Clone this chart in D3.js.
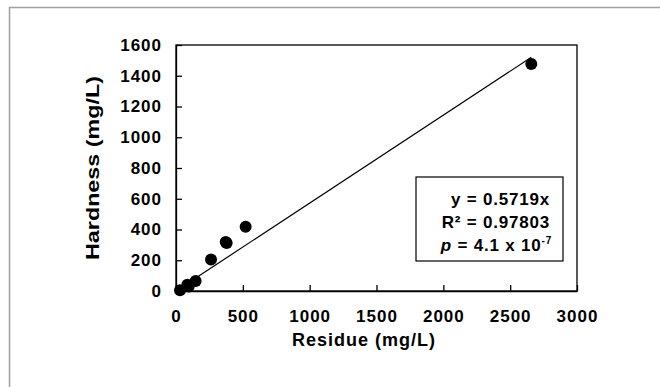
<!DOCTYPE html>
<html>
<head>
<meta charset="utf-8">
<script src="https://cdn.jsdelivr.net/npm/d3@7"></script>
<style>
  body { margin: 0; background: #fff; }
  text { font-family: "Liberation Sans", Arial, sans-serif; font-weight: bold; fill: #000; }
</style>
</head>
<body>
<div id="chart"></div>
<script>
const residue = [30, 85, 95, 147, 262, 372, 379, 521, 2658];
const hardness = [5, 40, 30, 65, 205, 318, 312, 418, 1477];
const slope = 0.5719;
const xTicks = [0, 500, 1000, 1500, 2000, 2500, 3000];
const yTicks = [0, 200, 400, 600, 800, 1000, 1200, 1400, 1600];
const statLines = ['y = 0.5719x', 'R² = 0.97803'];

const svg = d3.select('#chart').append('svg')
    .attr('width', 660)
    .attr('height', 387);

// outer frame (only top and left edges visible)
svg.append('path')
    .attr('d', 'M9.5,387 V7.5 H660')
    .attr('fill', 'none')
    .attr('stroke', '#a0a0a0')
    .attr('stroke-width', 1.5);

const margin = {top: 45, right: 83, bottom: 96, left: 176};
const width = 660 - margin.left - margin.right;
const height = 387 - margin.top - margin.bottom;

const g = svg.append('g')
    .attr('transform', `translate(${margin.left},${margin.top})`);

const x = d3.scaleLinear().domain([0, 3000]).range([0, width]);
const y = d3.scaleLinear().domain([0, 1600]).range([height, 0]);

// plot box
g.append('rect')
    .attr('width', width)
    .attr('height', height)
    .attr('fill', 'none')
    .attr('stroke', '#000')
    .attr('stroke-width', 1.3);

const xAxis = g.append('g')
    .attr('transform', `translate(0,${height})`)
    .call(d3.axisBottom(x).tickValues(xTicks).tickFormat(d3.format('d'))
        .tickSize(-6).tickPadding(19).tickSizeOuter(0));

const yAxis = g.append('g')
    .call(d3.axisLeft(y).tickValues(yTicks).tickFormat(d3.format('d'))
        .tickSize(-6).tickPadding(14).tickSizeOuter(0));

[xAxis, yAxis].forEach(a => {
    a.select('.domain').attr('stroke', '#000').attr('stroke-width', 1.3);
    a.selectAll('.tick line').attr('stroke', '#000').attr('stroke-width', 1.3);
    a.selectAll('.tick text')
        .style('font-family', '"Liberation Sans", Arial, sans-serif')
        .style('font-weight', 'bold')
        .style('font-size', '17px')
        .style('letter-spacing', '1px')
        .attr('fill', '#000');
});

// trend line
const xMax = d3.max(residue);
g.append('line')
    .attr('x1', x(0))
    .attr('y1', y(0))
    .attr('x2', x(xMax))
    .attr('y2', y(slope * xMax))
    .attr('stroke', '#000')
    .attr('stroke-width', 1.2);

// points
g.selectAll('.pt')
    .data(residue.map((r, i) => ({r, h: hardness[i]})))
    .enter()
    .append('circle')
    .attr('class', 'pt')
    .attr('cx', d => x(d.r))
    .attr('cy', d => y(d.h))
    .attr('r', 6)
    .attr('fill', '#000');

// axis titles
svg.append('text')
    .attr('text-anchor', 'middle')
    .attr('x', 364)
    .attr('y', 346)
    .style('font-size', '18px')
    .style('letter-spacing', '1px')
    .text('Residue (mg/L)');

svg.append('text')
    .attr('text-anchor', 'middle')
    .attr('transform', 'translate(99,168) rotate(-90)')
    .style('font-size', '18px')
    .attr('textLength', 184)
    .attr('lengthAdjust', 'spacingAndGlyphs')
    .text('Hardness (mg/L)');

// stats box
svg.append('rect')
    .attr('x', 416)
    .attr('y', 177)
    .attr('width', 147)
    .attr('height', 84)
    .attr('fill', '#fff')
    .attr('stroke', '#000')
    .attr('stroke-width', 1.2);

statLines.forEach((s, i) => {
    svg.append('text')
        .attr('text-anchor', 'end')
        .attr('x', 550)
        .attr('y', 205 + i * 23)
        .style('font-size', '17px')
        .style('letter-spacing', '0.8px')
        .text(s);
});

const pText = svg.append('text')
    .attr('text-anchor', 'end')
    .attr('x', 552)
    .attr('y', 251)
    .style('font-size', '17px')
    .style('letter-spacing', '0.8px');
pText.append('tspan').style('font-style', 'italic').text('p');
pText.append('tspan').text(' = 4.1 x 10');
pText.append('tspan').attr('dy', -7).style('font-size', '10px').text('-7');
</script>
</body>
</html>
